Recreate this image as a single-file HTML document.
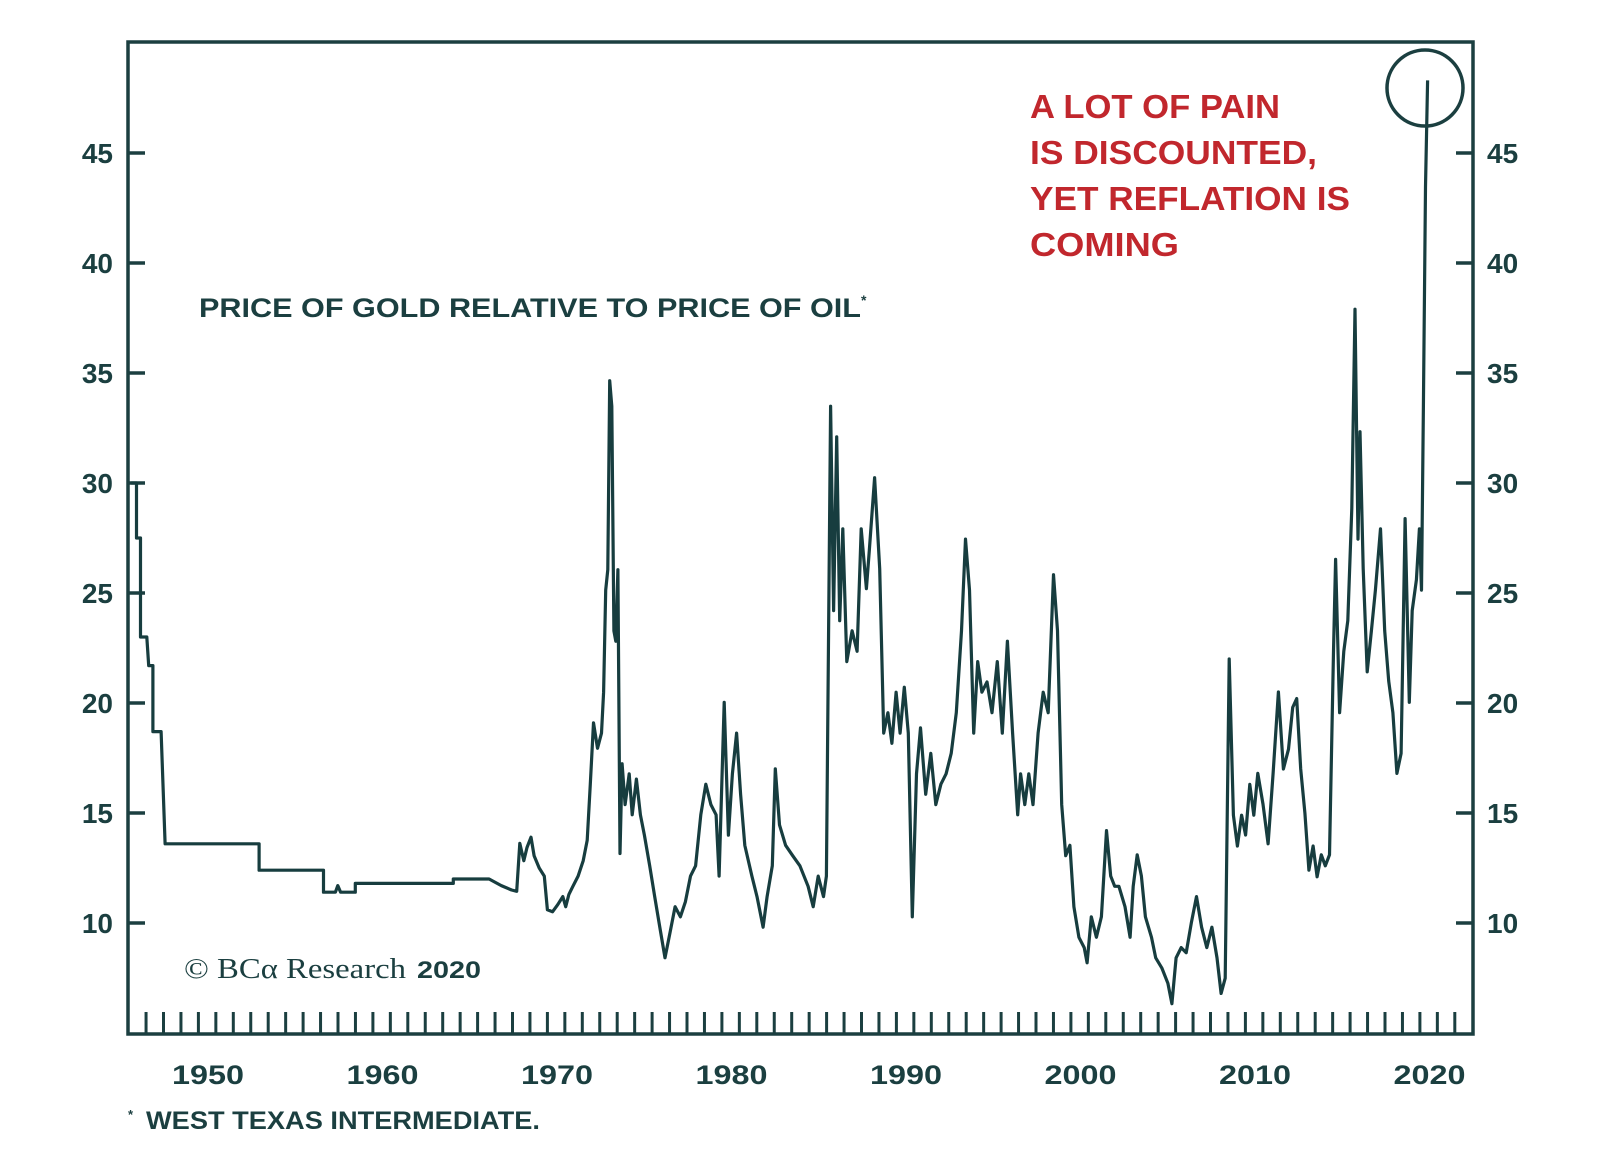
<!DOCTYPE html>
<html><head><meta charset="utf-8"><style>
html,body{margin:0;padding:0;background:#fff;}
svg{display:block;}
.ax{font-family:"Liberation Sans",sans-serif;font-weight:bold;fill:#1b3f40;}
</style></head><body>
<svg id="chart" width="1600" height="1168" viewBox="0 0 1600 1168">
<rect x="128" y="42" width="1345" height="992" fill="none" stroke="#1b3f40" stroke-width="3.5"/>
<g id="yticks"></g>
<g id="xticks"></g>
<path id="line" fill="none" stroke="#173d3f" stroke-width="3.2" stroke-linejoin="round"/>
<circle cx="1425" cy="88" r="38" fill="none" stroke="#1b3f40" stroke-width="3.5"/>
<text x="199" y="317" class="ax" font-size="27"><tspan textLength="662" lengthAdjust="spacingAndGlyphs">PRICE OF GOLD RELATIVE TO PRICE OF OIL</tspan><tspan font-size="14" dy="-12">*</tspan></text>
<g font-family="Liberation Sans, sans-serif" font-weight="bold" font-size="33" fill="#c1272d">
<text x="1030" y="118" textLength="250" lengthAdjust="spacingAndGlyphs">A LOT OF PAIN</text>
<text x="1030" y="164" textLength="287" lengthAdjust="spacingAndGlyphs">IS DISCOUNTED,</text>
<text x="1030" y="210" textLength="320" lengthAdjust="spacingAndGlyphs">YET REFLATION IS</text>
<text x="1030" y="256" textLength="149" lengthAdjust="spacingAndGlyphs">COMING</text>
</g>
<text x="184" y="978" fill="#1b3f40" font-family="Liberation Serif, serif" font-size="29" textLength="222" lengthAdjust="spacingAndGlyphs">© BCα Research</text>
<text x="417" y="978" class="ax" font-size="24" textLength="64" lengthAdjust="spacingAndGlyphs">2020</text>
<text x="128" y="1119" class="ax" font-size="13">*</text>
<text x="146" y="1129" class="ax" font-size="25" textLength="394" lengthAdjust="spacingAndGlyphs">WEST TEXAS INTERMEDIATE.</text>
</svg>
<script>
const yTickValues=[10,15,20,25,30,35,40,45];
const xTickLabels=[1950,1960,1970,1980,1990,2000,2010,2020];
const years=[1945.6,1945.9,1945.9,1946.13,1946.13,1946.49,1946.6,1946.84,1946.84,1947.31,1947.54,1952.93,1952.93,1956.62,1956.62,1957.3,1957.44,1957.6,1958.44,1958.44,1964.06,1964.06,1966.11,1966.81,1967.4,
1967.69,1967.87,1968.10,1968.28,1968.51,1968.69,1968.98,1969.27,1969.45,1969.74,1970.04,1970.33,1970.5,1970.68,1970.91,1971.21,1971.5,1971.73,1971.91,1972.09,1972.32,1972.55,1972.67,1972.79,1972.91,1973.02,1973.14,1973.26,1973.37,1973.49,1973.61,1973.73,1973.9,1974.14,1974.31,1974.55,1974.78,1975.01,1975.31,1975.6,1975.89,1976.19,1976.48,1976.77,1977.07,1977.36,1977.65,1977.94,1978.24,1978.53,1978.82,1979.12,1979.29,1979.58,1979.82,1980.05,1980.29,1980.52,1980.76,1981.17,1981.46,1981.81,1982.04,1982.34,1982.51,1982.75,1983.1,1983.51,1983.92,1984.39,1984.68,1984.97,1985.27,1985.44,1985.68,1985.85,1986.03,1986.2,1986.38,1986.61,1986.91,1987.2,1987.43,1987.73,1987.9,1988.2,1988.49,1988.72,1988.96,1989.19,1989.43,1989.66,1989.9,1990.13,1990.36,1990.6,1990.83,1991.13,1991.42,1991.71,1992.0,1992.3,1992.59,1992.88,1993.18,1993.41,1993.64,1993.88,1994.11,1994.35,1994.64,1994.93,1995.23,1995.52,1995.81,1996.11,1996.4,1996.57,1996.81,1997.04,1997.28,1997.57,1997.86,1998.15,1998.45,1998.68,1998.92,1999.15,1999.39,1999.62,1999.91,2000.21,2000.38,2000.62,2000.91,2001.2,2001.49,2001.73,2001.96,2002.2,2002.55,2002.84,2003.02,2003.25,2003.49,2003.72,2004.07,2004.31,2004.66,2005.01,2005.24,2005.48,2005.77,2006.06,2006.36,2006.65,2006.94,2007.24,2007.53,2007.82,2008.06,2008.29,2008.52,2008.76,2008.99,2009.23,2009.46,2009.7,2009.93,2010.16,2010.46,2010.75,2011.04,2011.34,2011.63,2011.92,2012.16,2012.39,2012.62,2012.86,2013.09,2013.33,2013.56,2013.8,2014.03,2014.27,2014.5,2014.62,2014.85,2015.09,2015.32,2015.55,2015.73,2015.9,2016.02,2016.2,2016.43,2016.67,2016.9,2017.19,2017.43,2017.66,2017.9,2018.13,2018.37,2018.6,2018.84,2019.01,2019.25,2019.42,2019.54,2019.65,2019.77,2019.89];
const ratios=[30,30,27.5,27.5,23,23,21.7,21.7,18.7,18.7,13.6,13.6,12.4,12.4,11.4,11.4,11.7,11.4,11.4,11.8,11.8,12.0,12.0,11.7,11.5,
11.44,13.62,12.83,13.43,13.9,13.06,12.5,12.13,10.6,10.51,10.83,11.2,10.74,11.3,11.67,12.13,12.83,13.76,16.31,19.1,17.94,18.63,20.49,25.13,26.06,34.65,33.49,23.28,22.81,26.06,13.16,17.24,15.38,16.78,14.92,16.54,14.92,13.99,12.6,11.2,9.81,8.42,9.58,10.74,10.28,10.97,12.13,12.6,14.92,16.31,15.38,14.92,12.13,20.03,13.99,16.78,18.63,15.85,13.53,12.13,11.2,9.81,11.2,12.6,17.01,14.46,13.53,13.06,12.6,11.67,10.74,12.13,11.2,12.13,33.49,24.2,32.1,23.74,27.92,21.88,23.28,22.35,27.92,25.2,26.99,30.24,26.1,18.63,19.56,18.17,20.49,18.63,20.72,18.63,10.28,16.78,18.87,15.85,17.71,15.38,16.31,16.78,17.71,19.56,23.28,27.45,25.13,18.63,21.88,20.49,20.96,19.56,21.88,18.63,22.81,18.63,14.92,16.78,15.38,16.78,15.38,18.63,20.49,19.56,25.83,23.28,15.38,13.06,13.53,10.74,9.35,8.88,8.19,10.28,9.35,10.28,14.2,12.13,11.67,11.67,10.74,9.35,11.67,13.1,12.13,10.28,9.35,8.42,7.96,7.26,6.33,8.42,8.88,8.65,10.05,11.2,9.81,8.88,9.81,8.42,6.8,7.49,22.0,14.9,13.5,14.9,14.0,16.3,14.9,16.8,15.4,13.6,16.8,20.5,17.0,17.9,19.8,20.2,17.0,15.0,12.4,13.5,12.1,13.1,12.6,13.1,22.35,26.53,19.56,22.35,23.74,28.85,37.9,27.45,32.33,26.1,21.42,23.28,25.13,27.92,23.28,21.0,19.56,16.8,17.71,28.38,20.03,24.2,25.6,27.92,25.13,33.49,43.47,48.3];
const X0=128,X1=1473,Y0=42,Y1=1034;
function xScale(yr){return 208+(yr-1950)*17.45;}
function yScale(v){return 153+(45-v)*22;}
const NS="http://www.w3.org/2000/svg";
const yg=document.getElementById('yticks');
yTickValues.forEach(v=>{
  const y=yScale(v);
  [[X0,X0+17],[X1-17,X1]].forEach((p,i)=>{
    const l=document.createElementNS(NS,'line');
    l.setAttribute('x1',p[0]);l.setAttribute('x2',p[1]);l.setAttribute('y1',y);l.setAttribute('y2',y);
    l.setAttribute('stroke','#1b3f40');l.setAttribute('stroke-width','3.5');
    
    
    yg.appendChild(l);
    const t=document.createElementNS(NS,'text');
    t.setAttribute('class','ax');t.setAttribute('font-size','28');
    t.setAttribute('y',y+10);
    if(i===0){t.setAttribute('x',113);t.setAttribute('text-anchor','end');}
    else{t.setAttribute('x',1487);}
    t.textContent=v;
    
    
    yg.appendChild(t);
  });
});
const xg=document.getElementById('xticks');
for(let k=1946;k<=2021;k++){
  const x=xScale(k+0.45);
  const l=document.createElementNS(NS,'line');
  l.setAttribute('x1',x);l.setAttribute('x2',x);l.setAttribute('y1',Y1-22);l.setAttribute('y2',Y1);
  l.setAttribute('stroke','#1b3f40');l.setAttribute('stroke-width','3');
  
  
  xg.appendChild(l);
}
xTickLabels.forEach(yr=>{
  const t=document.createElementNS(NS,'text');
  t.setAttribute('class','ax');t.setAttribute('font-size','27');
  t.setAttribute('x',xScale(yr)-36);t.setAttribute('y',1084);
  t.setAttribute('textLength','72');t.setAttribute('lengthAdjust','spacingAndGlyphs');
  t.textContent=yr;
  
  
  xg.appendChild(t);
});
let d='';
const n=Math.min(years.length,ratios.length);
for(let i=0;i<n;i++){d+=(i?'L':'M')+xScale(years[i]).toFixed(1)+','+yScale(ratios[i]).toFixed(1);}
document.getElementById('line').setAttribute('d',d);
</script>
</body></html>
